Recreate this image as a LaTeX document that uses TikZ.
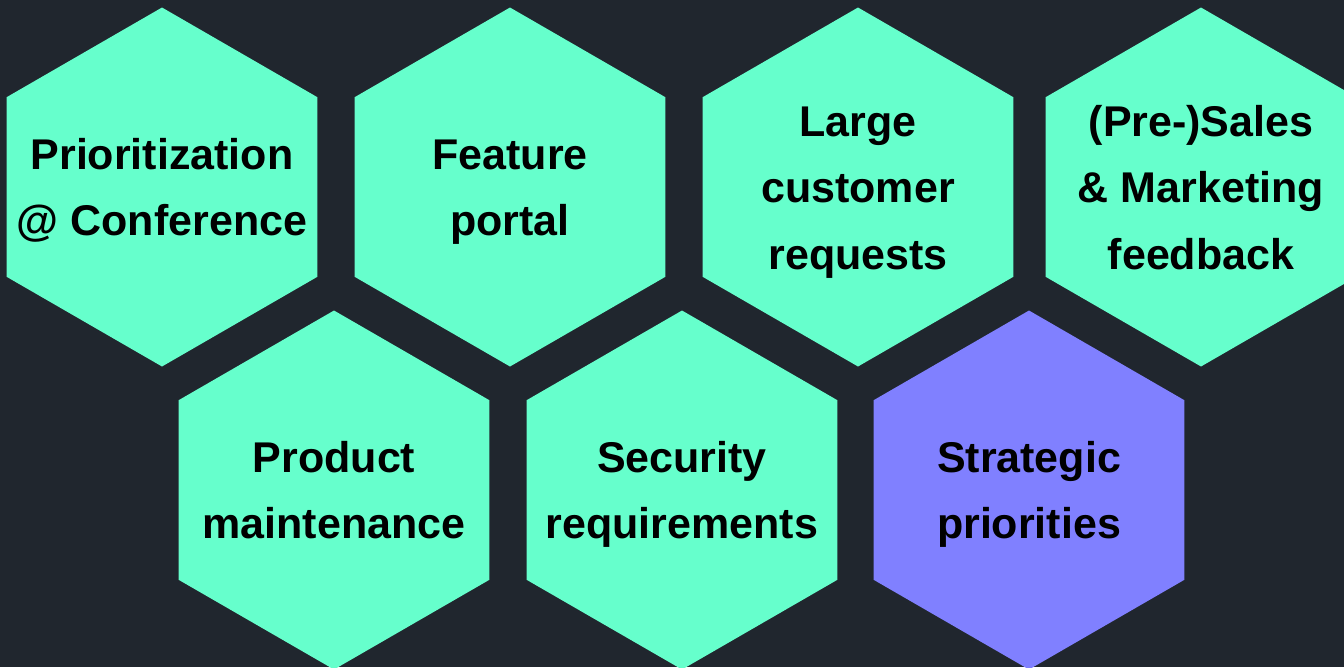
\documentclass[tikz,border=0pt]{standalone}
\usepackage{fontspec}
\setmainfont{Liberation Sans}
\usepackage{tikz}
\usetikzlibrary{shapes.geometric}

\definecolor{bgdark}{HTML}{20262E}
\definecolor{mint}{HTML}{66FFCC}
\definecolor{violet}{HTML}{8080FF}

\tikzset{
    hexa/.style={regular polygon, regular polygon sides=6, shape border rotate=30,
        minimum size=359pt, inner sep=0pt, outer sep=0pt, fill=mint},
    hexlabel/.style={align=center, inner sep=0pt, text depth=0pt,
        font=\bfseries\fontsize{43}{66.5}\selectfont},
    twolines/.style={hexlabel, text height=97.5pt},
    threelines/.style={hexlabel, text height=164pt}
}

\begin{document}
\begin{tikzpicture}[x=1pt, y=1pt]
        \fill[bgdark] (0,0) rectangle (1344,-667);
        \useasboundingbox (0,0) rectangle (1344,-667);

        % top row
        \node[hexa] (conf) at (162,-187) {};
        \node[hexa] (portal) at (510,-187) {};
        \node[hexa] (large) at (858,-187) {};
        \node[hexa] (sales) at (1201,-187) {};

        % bottom row
        \node[hexa] (maint) at (334,-490) {};
        \node[hexa] (secur) at (682,-490) {};
        \node[hexa, fill=violet] (strat) at (1029,-490) {};

        % texts
        \node[twolines] (conf-t) at (conf) {Prioritization\\@ Conference};
        \node[twolines] (portal-t) at (portal) {Feature\\portal};
        \node[threelines] (large-t) at (large) {Large\\customer\\requests};
        \node[threelines] (sales-t) at (sales) {(Pre-)Sales\\\& Marketing\\feedback};
        \node[twolines] (maint-t) at (maint) {Product\\maintenance};
        \node[twolines] (secur-t) at (secur) {Security\\requirements};
        \node[twolines] (strat-t) at (strat) {Strategic\\priorities};
    \end{tikzpicture}
\end{document}
